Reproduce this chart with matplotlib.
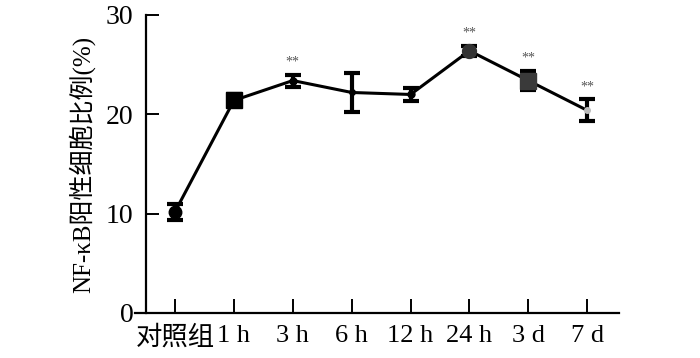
import numpy as np
import matplotlib.pyplot as plt

plt.rcParams['font.family'] = ['Liberation Serif', 'Noto Sans CJK SC']
plt.rcParams['axes.unicode_minus'] = False

# データ
groups = ['对照组', '1 h', '3 h', '6 h', '12 h', '24 h', '3 d', '7 d']
ratio = [10.2, 21.4, 23.4, 22.2, 22.0, 26.4, 23.4, 20.4]
sd = [0.8, 0.6, 0.6, 2.0, 0.7, 0.5, 1.0, 1.1]
signif = ['', '', '**', '', '', '**', '**', '**']

# 点ごとのマーカー
markers = ['o', 's', 'o', 'o', 'o', 'o', 's', 'o']
msizes = [9, 12, 5, 4, 5, 10, 11, 4]
mcolors = ['black', 'black', 'black', 'black', 'black', '#333333', '#3a3a3a', '#bbbbbb']

x = np.arange(len(groups))

fig = plt.figure(figsize=(7, 3.58), dpi=100)
ax = fig.add_axes([135 / 700, 45 / 358, 484 / 700, 298 / 358])

ax.plot(x, ratio, color='black', lw=2.2, zorder=2)
ax.errorbar(x, ratio, yerr=sd, fmt='none', ecolor='black', elinewidth=3,
            capsize=5.5, capthick=3, zorder=3)
for i in range(len(x)):
    ax.plot(x[i], ratio[i], marker=markers[i], ms=msizes[i], color=mcolors[i],
            mec=mcolors[i], ls='none', zorder=4)
    if signif[i]:
        ax.annotate(signif[i], (x[i], ratio[i] + sd[i]), xytext=(0, 9),
                    textcoords='offset points', ha='center', va='center',
                    fontsize=10, color='#555555')

ax.set_xlim(-0.68, 7.54)
ax.set_ylim(0, 30)
ax.set_xticks(x)
ax.set_xticklabels(groups)
ax.set_yticks([0, 10, 20, 30])

ax.spines['top'].set_visible(False)
ax.spines['right'].set_visible(False)
ax.spines['left'].set_position(('data', -0.49))
ax.spines['left'].set_linewidth(1.6)
ax.spines['bottom'].set_linewidth(1.6)

ax.tick_params(axis='x', direction='in', length=10, width=1.4, pad=9, labelsize=19)
ax.tick_params(axis='y', direction='in', length=9, width=1.4, pad=9, labelsize=20)

ax.set_ylabel('NF-κB阳性细胞比例(%)', fontsize=18, labelpad=8)

plt.savefig('out.png', dpi=100)
